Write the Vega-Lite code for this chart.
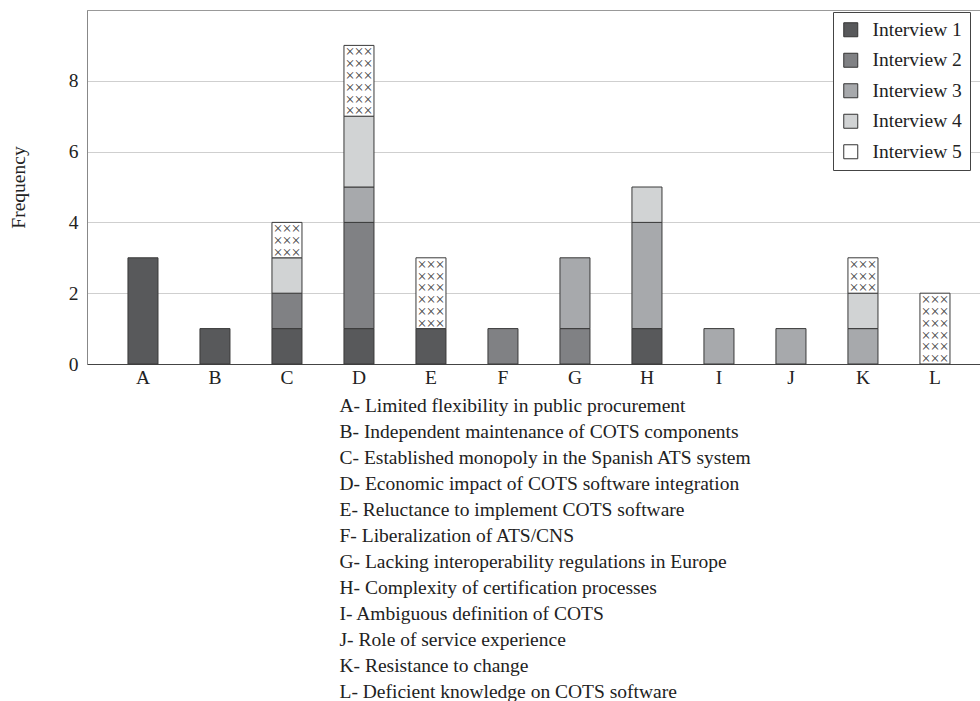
{
  "$schema": "https://vega.github.io/schema/vega-lite/v6.json",
  "width": 893,
  "height": 354,
  "autosize": {"type": "none"},
  "padding": {"left": 87, "top": 10, "right": 0, "bottom": 337},
  "background": "white",
  "config": {"font": "Liberation Serif", "view": {"stroke": "#999999", "strokeWidth": 1}},
  "data": {"values": [
    {"cat": "A", "interview": "Interview 1", "count": 3},
    {"cat": "B", "interview": "Interview 1", "count": 1},
    {"cat": "C", "interview": "Interview 1", "count": 1},
    {"cat": "C", "interview": "Interview 2", "count": 1},
    {"cat": "C", "interview": "Interview 4", "count": 1},
    {"cat": "C", "interview": "Interview 5", "count": 1},
    {"cat": "D", "interview": "Interview 1", "count": 1},
    {"cat": "D", "interview": "Interview 2", "count": 3},
    {"cat": "D", "interview": "Interview 3", "count": 1},
    {"cat": "D", "interview": "Interview 4", "count": 2},
    {"cat": "D", "interview": "Interview 5", "count": 2},
    {"cat": "E", "interview": "Interview 1", "count": 1},
    {"cat": "E", "interview": "Interview 5", "count": 2},
    {"cat": "F", "interview": "Interview 2", "count": 1},
    {"cat": "G", "interview": "Interview 2", "count": 1},
    {"cat": "G", "interview": "Interview 3", "count": 2},
    {"cat": "H", "interview": "Interview 1", "count": 1},
    {"cat": "H", "interview": "Interview 3", "count": 3},
    {"cat": "H", "interview": "Interview 4", "count": 1},
    {"cat": "I", "interview": "Interview 3", "count": 1},
    {"cat": "J", "interview": "Interview 3", "count": 1},
    {"cat": "K", "interview": "Interview 3", "count": 1},
    {"cat": "K", "interview": "Interview 4", "count": 1},
    {"cat": "K", "interview": "Interview 5", "count": 1},
    {"cat": "L", "interview": "Interview 5", "count": 2}
  ]},
  "transform": [
    {"stack": "count", "groupby": ["cat"], "sort": [{"field": "interview", "order": "ascending"}], "as": ["y0", "y1"]}
  ],
  "layer": [
    {
      "mark": {"type": "bar", "stroke": "#3a3a3a", "strokeWidth": 1},
      "encoding": {
        "x": {
          "field": "cat", "type": "nominal",
          "scale": {"paddingInner": 0.583, "paddingOuter": 0.493, "align": 0.577},
          "axis": {
            "labelAngle": 0, "ticks": false, "domainColor": "#444444", "labelFontSize": 19.5,
            "labelColor": "#222222", "labelPadding": 4, "grid": false,
            "title": [
              "A- Limited flexibility in public procurement",
              "B- Independent maintenance of COTS components",
              "C- Established monopoly in the Spanish ATS system",
              "D- Economic impact of COTS software integration",
              "E- Reluctance to implement COTS software",
              "F- Liberalization of ATS/CNS",
              "G- Lacking interoperability regulations in Europe",
              "H- Complexity of certification processes",
              "I- Ambiguous definition of COTS",
              "J- Role of service experience",
              "K- Resistance to change",
              "L- Deficient knowledge on COTS software"
            ],
            "titleAlign": "left", "titleAnchor": "start", "titleX": 252, "titleY": 32,
            "titleBaseline": "top", "titleLineHeight": 26, "titleFontSize": 19.5,
            "titleFontWeight": "normal", "titleColor": "#222222"
          }
        },
        "y": {
          "field": "y0", "type": "quantitative",
          "scale": {"domain": [0, 10], "nice": false},
          "axis": {
            "values": [0, 2, 4, 6, 8], "grid": true, "gridColor": "#cfcfcf", "domainColor": "#888888",
            "ticks": false, "labelFontSize": 19.5, "labelColor": "#222222", "labelPadding": 9,
            "title": "Frequency", "titleFontSize": 19.5, "titleFontWeight": "normal", "titleColor": "#222222",
            "titleX": -69, "titleY": 177, "titleAlign": "center", "titleBaseline": "middle"
          }
        },
        "y2": {"field": "y1"},
        "color": {
          "field": "interview", "type": "nominal",
          "scale": {
            "domain": ["Interview 1", "Interview 2", "Interview 3", "Interview 4", "Interview 5"],
            "range": ["#58595b", "#808184", "#a7a9ac", "#d1d3d4", "#ffffff"]
          },
          "legend": {
            "orient": "none", "legendX": 746, "legendY": 2, "title": null,
            "strokeColor": "#444444", "padding": 8, "fillColor": "#ffffff",
            "symbolType": "square", "symbolSize": 196, "symbolStrokeColor": "#333333",
            "symbolStrokeWidth": 1, "labelFontSize": 19.5, "labelColor": "#222222",
            "rowPadding": 9.5, "labelOffset": 12
          }
        }
      }
    },
    {
      "transform": [{"filter": "datum.interview === 'Interview 5'"}],
      "mark": {"type": "text", "baseline": "top", "align": "center", "fontSize": 16, "lineHeight": 11.8, "dy": -1, "color": "#444444"},
      "encoding": {
        "x": {"field": "cat", "type": "nominal"},
        "y": {"field": "y1", "type": "quantitative"},
        "text": {
          "condition": {"test": "datum.count === 2", "value": ["×××", "×××", "×××", "×××", "×××", "×××"]},
          "value": ["×××", "×××", "×××"]
        }
      }
    }
  ]
}
